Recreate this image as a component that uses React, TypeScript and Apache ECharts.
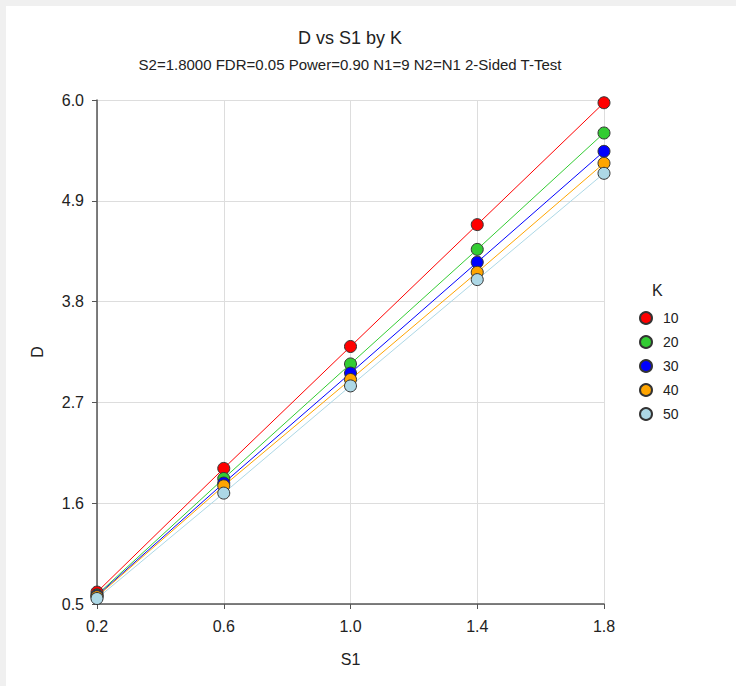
import React, { useEffect, useRef } from "react";
import * as echarts from "echarts";

const s1Values = [0.2, 0.6, 1.0, 1.4, 1.8];
const kLabels = ["10", "20", "30", "40", "50"];
const d10 = [0.63, 1.98, 3.31, 4.64, 5.97];
const d20 = [0.6, 1.87, 3.12, 4.37, 5.64];
const d30 = [0.59, 1.82, 3.02, 4.23, 5.44];
const d40 = [0.58, 1.79, 2.95, 4.12, 5.31];
const d50 = [0.56, 1.71, 2.88, 4.04, 5.2];
const seriesColors = ["#ff0000", "#33cc33", "#0000ff", "#ffa500", "#add8e6"];
const xTicks = { min: 0.2, max: 1.8, interval: 0.4 };
const yTicks = { min: 0.5, max: 6.0, interval: 1.1 };

const FONT = "'Liberation Sans', Arial, sans-serif";

export default function App() {
  const ref = useRef<HTMLDivElement>(null);
  useEffect(() => {
    if (!ref.current) return;
    const chart = echarts.init(ref.current, undefined, { renderer: "svg" });
    const all = [d10, d20, d30, d40, d50];
    const series = all.map((vals, i) => ({
      name: kLabels[i],
      type: "line",
      data: s1Values.map((x, j) => [x, vals[j]]),
      symbol: "circle",
      symbolSize: 12,
      lineStyle: { color: seriesColors[i], width: 1 },
      itemStyle: { color: seriesColors[i], borderColor: "#333", borderWidth: 1 },
      emphasis: { disabled: true },
    }));
    chart.setOption({
      animation: false,
      backgroundColor: "#ffffff",
      textStyle: { fontFamily: FONT },
      graphic: [
        {
          type: "text",
          x: 344,
          y: 32,
          style: {
            text: "D vs S1 by K",
            fontSize: 18,
            fill: "#222",
            fontFamily: FONT,
            align: "center",
            verticalAlign: "middle",
          },
        },
        {
          type: "text",
          x: 344,
          y: 58,
          style: {
            text: "S2=1.8000 FDR=0.05 Power=0.90 N1=9 N2=N1 2-Sided T-Test",
            fontSize: 15,
            fill: "#222",
            fontFamily: FONT,
            align: "center",
            verticalAlign: "middle",
          },
        },
        {
          type: "text",
          left: 646,
          top: 276,
          style: { text: "K", fontSize: 16, fill: "#222", fontFamily: FONT },
        },
      ],
      legend: {
        orient: "vertical",
        left: 628,
        top: 300,
        icon: "circle",
        itemWidth: 12,
        itemHeight: 12,
        itemGap: 10,
        textStyle: { fontSize: 14, color: "#222", fontFamily: FONT, padding: [0, 0, 0, 6] },
        data: kLabels,
      },
      grid: { left: 91, right: 132, top: 94, bottom: 82, containLabel: false },
      xAxis: {
        type: "value",
        min: xTicks.min,
        max: xTicks.max,
        interval: xTicks.interval,
        name: "S1",
        nameLocation: "middle",
        nameGap: 47,
        nameTextStyle: { fontSize: 16, color: "#222", fontFamily: FONT },
        axisLine: { lineStyle: { color: "#555", width: 1.5 } },
        axisTick: { show: true, length: 5, lineStyle: { color: "#555" } },
        axisLabel: {
          fontSize: 16,
          color: "#222",
          margin: 14,
          formatter: (v: number) => v.toFixed(1),
        },
        splitLine: { show: true, lineStyle: { color: "#dddddd", width: 1 } },
      },
      yAxis: {
        type: "value",
        min: yTicks.min,
        max: yTicks.max,
        interval: yTicks.interval,
        name: "D",
        nameLocation: "middle",
        nameGap: 52,
        nameRotate: 90,
        nameTextStyle: { fontSize: 16, color: "#222", fontFamily: FONT },
        axisLine: { show: true, lineStyle: { color: "#555", width: 1.5 } },
        axisTick: { show: true, length: 5, lineStyle: { color: "#555" } },
        axisLabel: {
          fontSize: 16,
          color: "#222",
          margin: 13,
          formatter: (v: number) => v.toFixed(1),
        },
        splitLine: { show: true, lineStyle: { color: "#dddddd", width: 1 } },
      },
      series,
    });
    return () => chart.dispose();
  }, []);
  return (
    <div
      style={{
        position: "fixed",
        left: 0,
        top: 0,
        width: 736,
        height: 686,
        background: "#f0f0f0",
      }}
    >
      <div
        ref={ref}
        style={{ position: "absolute", left: 6, top: 6, width: 730, height: 680, background: "#fff" }}
      />
    </div>
  );
}
